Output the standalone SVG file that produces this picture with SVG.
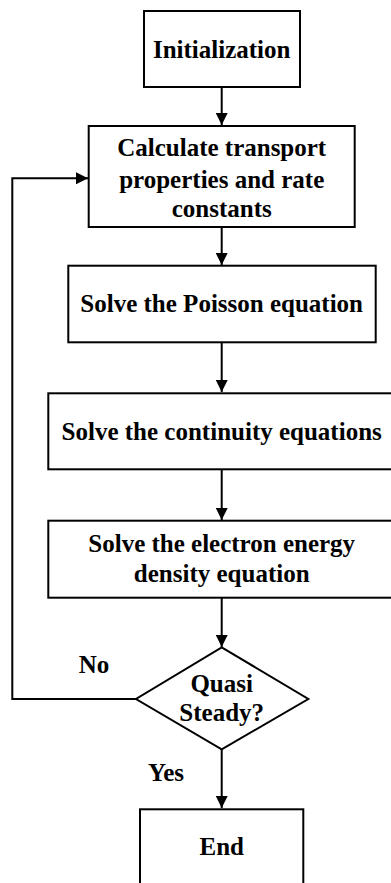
<svg xmlns="http://www.w3.org/2000/svg" width="391" height="883" viewBox="0 0 391 883">
<style>
.box{fill:#fff;stroke:#000;stroke-width:2}
.t{font-family:"Liberation Serif","Times New Roman",serif;font-weight:bold;font-size:25px;fill:#000;text-anchor:middle}
.c{fill:none;stroke:#000;stroke-width:2}
</style>
<defs>
<marker id="ah" viewBox="0 0 12 12" refX="12" refY="6" markerWidth="12" markerHeight="12" markerUnits="userSpaceOnUse" orient="auto">
<path d="M0,0 L12,6 L0,12 Z" fill="#000"/>
</marker>
</defs>
<rect width="391" height="883" fill="#fff"/>
<g id="connectors">
<line class="c" x1="221.7" y1="87" x2="221.7" y2="125" marker-end="url(#ah)"/>
<line class="c" x1="221.7" y1="227" x2="221.7" y2="265" marker-end="url(#ah)"/>
<line class="c" x1="221.7" y1="342" x2="221.7" y2="392" marker-end="url(#ah)"/>
<line class="c" x1="221.7" y1="469" x2="221.7" y2="520" marker-end="url(#ah)"/>
<line class="c" x1="221.7" y1="598" x2="221.7" y2="647" marker-end="url(#ah)"/>
<line class="c" x1="221.7" y1="749" x2="221.7" y2="808" marker-end="url(#ah)"/>
<polyline class="c" points="136,699 12.3,699 12.3,178.3 88,178.3" marker-end="url(#ah)"/>
<text class="t" x="94" y="673">No</text>
<text class="t" x="166" y="781">Yes</text>
</g>
<g id="init">
<rect class="box" x="144" y="11" width="156" height="76"/>
<text class="t" x="221.7" y="58">Initialization</text>
</g>
<g id="calc">
<rect class="box" x="88.7" y="126" width="266" height="101"/>
<text class="t" x="221.7" y="156">Calculate transport</text>
<text class="t" x="221.7" y="188">properties and rate</text>
<text class="t" x="221.7" y="217">constants</text>
</g>
<g id="poisson">
<rect class="box" x="68.3" y="265.7" width="307.4" height="76.6"/>
<text class="t" x="221.7" y="312">Solve the Poisson equation</text>
</g>
<g id="continuity">
<rect class="box" x="48.3" y="393.3" width="347" height="76"/>
<text class="t" x="221.7" y="440">Solve the continuity equations</text>
</g>
<g id="electron">
<rect class="box" x="48.3" y="520.7" width="347" height="77"/>
<text class="t" x="221.7" y="552">Solve the electron energy</text>
<text class="t" x="221.7" y="582">density equation</text>
</g>
<g id="decision">
<polygon class="box" points="221.7,647.3 308.3,699 221.7,749.3 136,699"/>
<text class="t" x="221.7" y="692">Quasi</text>
<text class="t" x="221.7" y="721">Steady?</text>
</g>
<g id="end">
<rect class="box" x="140" y="809.3" width="163.3" height="90"/>
<text class="t" x="221.7" y="855">End</text>
</g>
</svg>
